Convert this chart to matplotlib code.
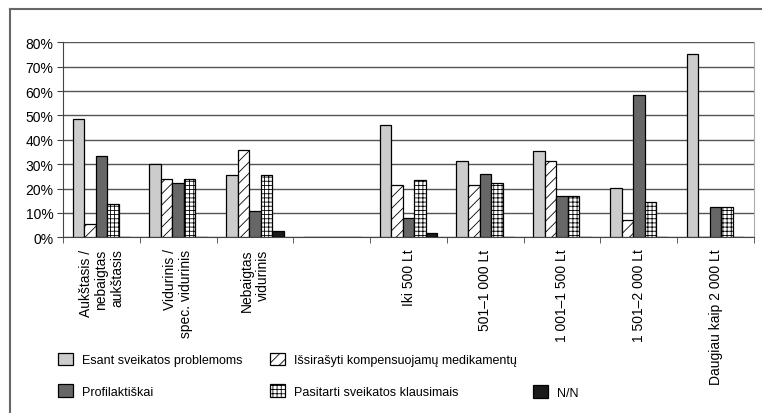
import numpy as np
import matplotlib.pyplot as plt
from matplotlib.patches import Patch
from matplotlib.lines import Line2D

plt.rcParams['font.family'] = ['Liberation Sans', 'DejaVu Sans']
plt.rcParams['hatch.linewidth'] = 0.6

# Data (percent)
categories = ['Aukštasis /\nnebaigtas\naukštasis', 'Vidurinis /\nspec. vidurinis',
              'Nebaigtas\nvidurinis', '', 'Iki 500 Lt', '501–1 000 Lt',
              '1 001–1 500 Lt', '1 501–2 000 Lt', 'Daugiau kaip 2 000 Lt']
esant = [48.5, 30, 25.5, 0, 46, 31.3, 35.5, 20.2, 75.3]
israsyti = [5.5, 24, 36, 0, 21.3, 21.3, 31.3, 7.2, 0]
profilaktiskai = [33.2, 22.3, 10.8, 0, 8, 25.8, 16.9, 58.2, 12.5]
pasitarti = [13.5, 24, 25.5, 0, 23.7, 22.3, 17, 14.6, 12.5]
nn = [0, 0, 2.7, 0, 1.6, 0, 0, 0, 0]

series = [
    ('Esant sveikatos problemoms', esant, '#cccccc', None),
    ('Išsirašyti kompensuojamų medikamentų', israsyti, 'white', '///'),
    ('Profilaktiškai', profilaktiskai, '#676767', None),
    ('Pasitarti sveikatos klausimais', pasitarti, 'white', '++++'),
    ('N/N', nn, '#1a1a1a', None),
]

fig = plt.figure(figsize=(7.62, 4.14), dpi=100)
ax = fig.add_axes([0.0827, 0.4244, 0.9068, 0.471])

x = np.arange(len(categories))
w = 0.15
handles = {}
for i, (name, vals, col, hatch) in enumerate(series):
    ax.bar(x + (i - 2) * w, vals, w, color=col, edgecolor='black',
           linewidth=0.9, hatch=hatch, zorder=3)
    handles[name] = Patch(facecolor=col, edgecolor='black', hatch=hatch,
                          linewidth=0.9)

ax.set_xlim(-0.5, len(categories) - 0.5)
ax.set_ylim(0, 80)
ax.set_yticks(np.arange(0, 81, 10))
ax.set_yticklabels([f'{v}%' for v in range(0, 81, 10)], fontsize=10)
ax.set_xticks(x)
ax.set_xticklabels(categories, rotation=90, fontsize=10, va='top', ha='center',
                   multialignment='right', linespacing=1.15)
ax.set_xticks(np.arange(-0.5, len(categories)), minor=True)
ax.tick_params(axis='x', which='major', length=0, pad=8)
ax.tick_params(axis='x', which='minor', length=4, direction='out', color='#444')
ax.tick_params(axis='y', length=4, color='#444', pad=3)

ax.yaxis.grid(True, color='#555555', linewidth=1, zorder=0)
ax.spines['top'].set_visible(False)
ax.spines['right'].set_color('#aaaaaa')
ax.spines['left'].set_color('#444444')
ax.spines['bottom'].set_color('#444444')

common = dict(frameon=False, fontsize=9, handlelength=1.2, handleheight=1.2,
              handletextpad=0.7, labelspacing=1.45, borderaxespad=0,
              bbox_transform=fig.transFigure, loc='upper left')
leg1 = fig.legend([handles['Esant sveikatos problemoms'], handles['Profilaktiškai'],
                   handles['Išsirašyti kompensuojamų medikamentų'],
                   handles['Pasitarti sveikatos klausimais']],
                  ['Esant sveikatos problemoms', 'Profilaktiškai',
                   'Išsirašyti kompensuojamų medikamentų',
                   'Pasitarti sveikatos klausimais'],
                  ncol=2, columnspacing=2.2, bbox_to_anchor=(0.07, 0.158), **common)
leg2 = fig.legend([handles['N/N']], ['N/N'], bbox_to_anchor=(0.693, 0.080), **common)

# outer frame (top and left edges)
fig.add_artist(Line2D([10 / 762, 1], [1 - 10 / 414, 1 - 10 / 414],
                      color='#666666', linewidth=1.5, transform=fig.transFigure))
fig.add_artist(Line2D([10 / 762, 10 / 762], [0, 1 - 10 / 414],
                      color='#666666', linewidth=1.5, transform=fig.transFigure))

fig.savefig('out.png', dpi=100)
